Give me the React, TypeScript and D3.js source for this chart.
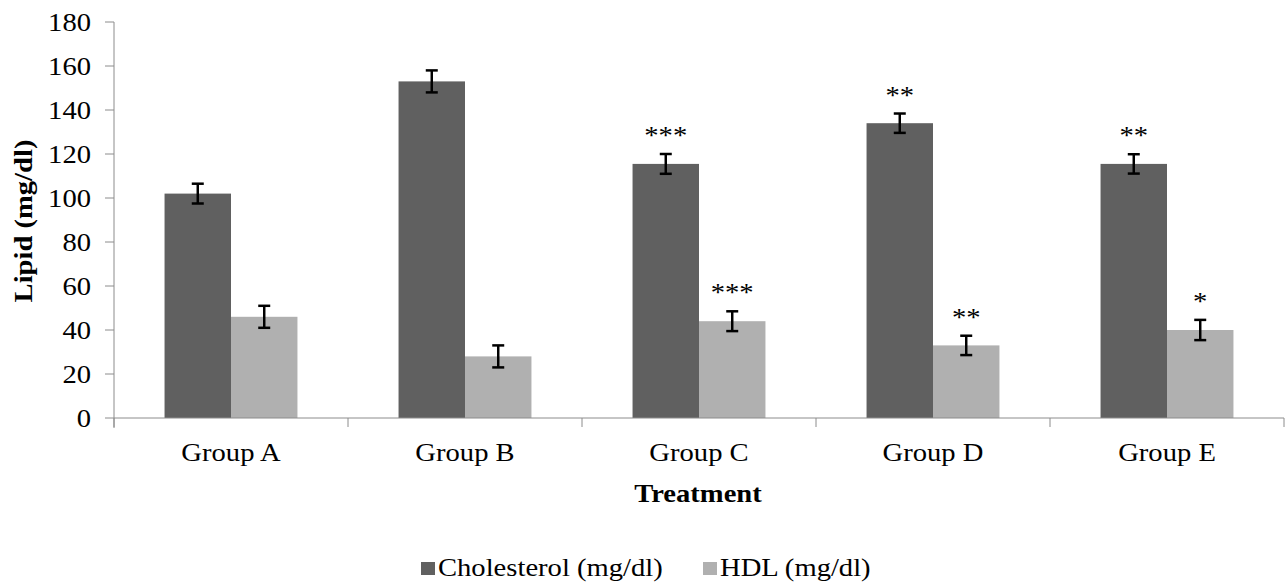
import React from "react";
import * as d3 from "d3";

const groups = ["Group A", "Group B", "Group C", "Group D", "Group E"];
const seriesNames = ["Cholesterol (mg/dl)", "HDL (mg/dl)"];
const cholesterol = [102, 153, 115.5, 134, 115.5];
const cholesterolErr = [4.5, 5, 4.5, 4.4, 4.4];
const hdl = [46, 28, 44, 33, 40];
const hdlErr = [5, 5, 4.5, 4.4, 4.6];
const cholesterolSig = ["", "", "***", "**", "**"];
const hdlSig = ["", "", "***", "**", "*"];
const yTicks = [0, 20, 40, 60, 80, 100, 120, 140, 160, 180];
const colors = ["#606060", "#b0b0b0"];

const W = 1286;
const H = 585;
const FONT = "'Liberation Serif', 'Times New Roman', serif";
const SX = 1.1;

function T({ x, y, anchor = "middle", size = 26, weight = "normal", rotate = 0, children }: any) {
  return (
    <text
      transform={`translate(${x},${y}) rotate(${rotate}) scale(${SX},1)`}
      textAnchor={anchor}
      fontFamily={FONT}
      fontSize={size}
      fontWeight={weight}
      fill="#000"
    >
      {children}
    </text>
  );
}

export default function App() {
  const left = 114, right = 1284, top = 22, bottom = 418;
  const y = d3.scaleLinear().domain([0, 180]).range([bottom, top]);
  const x0 = d3.scaleBand().domain(groups).range([left, right]).paddingInner(0.432).paddingOuter(0.216);
  const x1 = d3.scaleBand().domain(seriesNames).range([0, x0.bandwidth()]);
  const step = x0.step();
  const data = [
    { vals: cholesterol, errs: cholesterolErr, sig: cholesterolSig },
    { vals: hdl, errs: hdlErr, sig: hdlSig },
  ];
  const axisColor = "#8c8c8c";

  return (
    <svg width={W} height={H} style={{ position: "absolute", left: 0, top: 0, background: "#fff" }}>
      <rect x={0} y={0} width={W} height={H} fill="#fff" />
      {/* bars */}
      {data.map((s, si) =>
        groups.map((g, gi) => {
          const bx = (x0(g) as number) + (x1(seriesNames[si]) as number);
          const bw = x1.bandwidth();
          const v = s.vals[gi];
          const cx = bx + bw / 2;
          const eTop = y(v + s.errs[gi]);
          const eBot = y(v - s.errs[gi]);
          return (
            <g key={`${si}-${gi}`}>
              <rect x={bx} y={y(v)} width={bw} height={bottom - y(v)} fill={colors[si]} />
              <line x1={cx} x2={cx} y1={eTop} y2={eBot} stroke="#000" strokeWidth={2.5} />
              <line x1={cx - 6} x2={cx + 6} y1={eTop} y2={eTop} stroke="#000" strokeWidth={2.5} />
              <line x1={cx - 6} x2={cx + 6} y1={eBot} y2={eBot} stroke="#000" strokeWidth={2.5} />
              {s.sig[gi] && (
                <T x={cx} y={eTop - 10} size={26}>
                  {s.sig[gi]}
                </T>
              )}
            </g>
          );
        })
      )}
      {/* y axis */}
      <line x1={left} x2={left} y1={top} y2={bottom + 10} stroke={axisColor} strokeWidth={1} />
      {yTicks.map((t) => (
        <g key={t}>
          <line x1={left - 9} x2={left} y1={y(t)} y2={y(t)} stroke={axisColor} strokeWidth={1} />
          <T x={91} y={y(t) + 9} anchor="end">
            {t}
          </T>
        </g>
      ))}
      {/* x axis */}
      <line x1={left} x2={right} y1={bottom} y2={bottom} stroke={axisColor} strokeWidth={1} />
      {d3.range(groups.length + 1).map((k) => (
        <line key={k} x1={left + k * step} x2={left + k * step} y1={bottom} y2={bottom + 9} stroke={axisColor} strokeWidth={1} />
      ))}
      {groups.map((g) => (
        <T key={g} x={(x0(g) as number) + x0.bandwidth() / 2} y={461}>
          {g}
        </T>
      ))}
      <T x={698} y={502} weight="bold">
        Treatment
      </T>
      <T x={32} y={221} weight="bold" rotate={-90}>
        Lipid (mg/dl)
      </T>
      {/* legend */}
      {seriesNames.map((n, i) => {
        const lx = [421, 703][i];
        return (
          <g key={n}>
            <rect x={lx} y={562} width={14} height={13} fill={colors[i]} />
            <T x={lx + 17} y={576} anchor="start">
              {n}
            </T>
          </g>
        );
      })}
    </svg>
  );
}
